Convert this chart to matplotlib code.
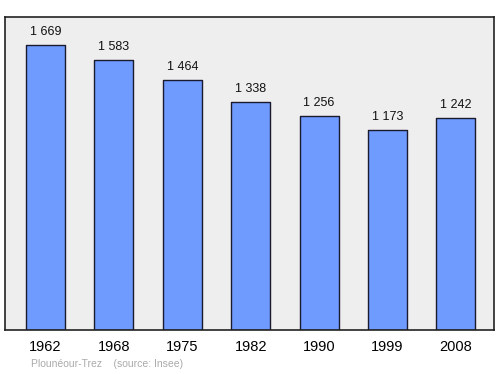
import matplotlib
matplotlib.use("Agg")
import matplotlib.pyplot as plt

years = ["1962", "1968", "1975", "1982", "1990", "1999", "2008"]
population = [1669, 1583, 1464, 1338, 1256, 1173, 1242]
value_labels = ["1 669", "1 583", "1 464", "1 338", "1 256", "1 173", "1 242"]
footer = "Plounéour-Trez    (source: Insee)"

plt.rcParams['font.family'] = ['Liberation Sans', 'DejaVu Sans']

fig = plt.figure(figsize=(5.0, 3.74), dpi=100)
ax = fig.add_axes([0.010, 0.1176, 0.978, 0.838])
ax.set_facecolor("#eeeeee")

x = list(range(len(years)))
ax.bar(x, population, width=0.57, color="#6f9bff", edgecolor="#1a1a2e",
       linewidth=1.0, joinstyle="round", zorder=2)
for xi, v, lab in zip(x, population, value_labels):
    ax.annotate(lab, (xi, v), xytext=(0, 5), textcoords="offset points",
                ha="center", va="bottom", fontsize=9, color="#111111")

ax.set_xlim(-0.592, 6.557)
ax.set_ylim(0, 1838)
ax.set_yticks([])
ax.set_xticks(x)
ax.set_xticklabels(years, fontsize=10.5)
ax.tick_params(axis="x", length=0, pad=7.5)
for s in ax.spines.values():
    s.set_color("#222222")
    s.set_linewidth(1.2)

fig.text(31/500, 1 - 364/374, footer, fontsize=7.5, color="#aaaaaa",
         ha="left", va="center")

fig.savefig("out.png", dpi=100)
